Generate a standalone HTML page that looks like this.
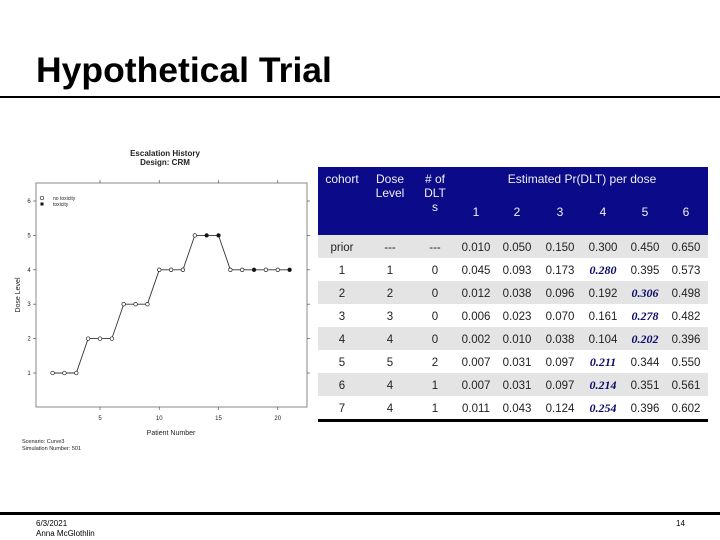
<!DOCTYPE html>
<html><head><meta charset="utf-8"><style>
html,body{margin:0;padding:0;background:#fff;}
svg{display:block;font-family:"Liberation Sans",Arial,sans-serif;}
</style></head><body>
<svg width="720" height="540" viewBox="0 0 720 540" xmlns="http://www.w3.org/2000/svg">
<text x="36" y="82" font-size="35.5" font-weight="bold" fill="#000">Hypothetical Trial</text>
<rect x="0" y="96" width="720" height="2" fill="#000"/>
<rect x="0" y="512" width="720" height="3" fill="#000"/>
<text x="36" y="526" font-size="8" fill="#000">6/3/2021</text>
<text x="36" y="536" font-size="8" fill="#000">Anna McGlothlin</text>
<text x="676" y="526" font-size="8" fill="#000">14</text>

<g id="chart">
<text x="165" y="156" font-size="8" font-weight="bold" text-anchor="middle" fill="#222">Escalation History</text>
<text x="165" y="165" font-size="8" font-weight="bold" text-anchor="middle" fill="#222">Design: CRM</text>
<rect x="36" y="183" width="271" height="224" fill="none" stroke="#888" stroke-width="1"/>
<text x="20" y="295" font-size="7" fill="#222" text-anchor="middle" transform="rotate(-90 20 295)">Dose Level</text>
<text x="171" y="435" font-size="7" fill="#222" text-anchor="middle">Patient Number</text>
<text x="22" y="443" font-size="5.5" fill="#222">Scenario: Curve3</text>
<text x="22" y="450" font-size="5.5" fill="#222">Simulation Number: 501</text>
<circle cx="42" cy="198" r="1.8" fill="#fff" stroke="#222" stroke-width="0.7"/>
<text x="53" y="200" font-size="5" fill="#222">no toxicity</text>
<rect x="40.5" y="202.5" width="3" height="3" fill="#111"/>
<text x="53" y="206" font-size="5" fill="#222">toxicity</text>
<g id="chart-marks"></g>
</g>

<g id="table"></g>
</svg>
<script>
const patients=[1,2,3,4,5,6,7,8,9,10,11,12,13,14,15,16,17,18,19,20,21];
const doses=[1,1,1,2,2,2,3,3,3,4,4,4,5,5,5,4,4,4,4,4,4];
const toxic=[0,0,0,0,0,0,0,0,0,0,0,0,0,1,1,0,0,1,0,0,1];
const xTicks=[5,10,15,20];
const yTicks=[1,2,3,4,5,6];

const NS="http://www.w3.org/2000/svg";
function mk(tag,attrs,parent){const e=document.createElementNS(NS,tag);for(const k in attrs)e.setAttribute(k,attrs[k]);parent.appendChild(e);return e;}
function xs(v){return 52.6+(v-1)*11.85;}
function ys(v){return 373-(v-1)*34.4;}
const g=document.getElementById('chart-marks');
xTicks.forEach(t=>{
  const l=mk('line',{x1:xs(t),x2:xs(t),y1:407,y2:410,stroke:'#555','stroke-width':0.7},g);
  
  
  const tl=mk('line',{x1:xs(t),x2:xs(t),y1:180,y2:183,stroke:'#555','stroke-width':0.7},g);
  
  
  const tx=mk('text',{x:xs(t),y:420,'font-size':6,'text-anchor':'middle',fill:'#222'},g);tx.textContent=t;
  
  
});
yTicks.forEach(t=>{
  const l=mk('line',{x1:33,x2:36,y1:ys(t),y2:ys(t),stroke:'#555','stroke-width':0.7},g);
  
  
  const r=mk('line',{x1:307,x2:310,y1:ys(t),y2:ys(t),stroke:'#555','stroke-width':0.7},g);
  
  
  const tx=mk('text',{x:29,y:ys(t)+2,'font-size':6,'text-anchor':'middle',fill:'#222'},g);tx.textContent=t;
  
  
});
let pts=[];
for(let i=0;i<patients.length;i++){pts.push(xs(patients[i])+','+ys(doses[i]));}
const line=mk('polyline',{points:pts.join(' '),fill:'none',stroke:'#333','stroke-width':0.9},g);


for(let i=0;i<patients.length;i++){
  const c=mk('circle',{cx:xs(patients[i]),cy:ys(doses[i]),r:1.8,fill:toxic[i]?'#111':'#fff',stroke:'#222','stroke-width':0.7},g);
  
  
}

const cohorts=['prior','1','2','3','4','5','6','7'];
const doseLevels=['---','1','2','3','4','5','4','4'];
const dlts=['---','0','0','0','0','2','1','1'];
const probs=[
['0.010','0.050','0.150','0.300','0.450','0.650'],
['0.045','0.093','0.173','0.280','0.395','0.573'],
['0.012','0.038','0.096','0.192','0.306','0.498'],
['0.006','0.023','0.070','0.161','0.278','0.482'],
['0.002','0.010','0.038','0.104','0.202','0.396'],
['0.007','0.031','0.097','0.211','0.344','0.550'],
['0.007','0.031','0.097','0.214','0.351','0.561'],
['0.011','0.043','0.124','0.254','0.396','0.602']];
const highlight=[-9,3,4,4,4,3,3,3];

const T=document.getElementById('table');
const cx=[342,390,435,476,517,560,603,645,686];
const hdr=mk('rect',{x:318,y:167,width:390,height:68,fill:'#0b0b8a'},T);


function ht(x,y,s,name){const t=mk('text',{x:x,y:y,'font-size':12,'text-anchor':'middle',fill:'#f0f0f0'},T);t.textContent=s;

}
ht(342,183,'cohort','header-cohort');
ht(390,183,'Dose','header-dose');ht(390,197,'Level','header-dose');
ht(435,183,'# of','header-dlts');ht(435,197,'DLT','header-dlts');ht(435,211,'s','header-dlts');
ht(582,183,'Estimated Pr(DLT) per dose','header-estimated');
for(let j=0;j<6;j++)ht(cx[3+j],216,String(j+1),'header-dose-col');
for(let i=0;i<cohorts.length;i++){
  const y0=235+i*23;
  const r=mk('rect',{x:318,y:y0,width:390,height:23,fill:i%2===0?'#e4e4e4':'#fff'},T);
  
  
  const vals=[cohorts[i],doseLevels[i],dlts[i]].concat(probs[i]);
  vals.forEach((v,k)=>{
    const hl=k>=3 && (k-3)===highlight[i];
    const t=mk('text',{x:cx[k],y:y0+16,'font-size':hl?12:11.5,'text-anchor':'middle',fill:hl?'#0b0b6a':'#222'},T);
    if(hl){t.setAttribute('font-weight','bold');t.setAttribute('font-style','italic');t.setAttribute('font-family','"Liberation Serif",serif');}
    t.textContent=v;
    
    
  });
}
const b=mk('rect',{x:318,y:419,width:390,height:3,fill:'#000'},T);


</script>
</body></html>
